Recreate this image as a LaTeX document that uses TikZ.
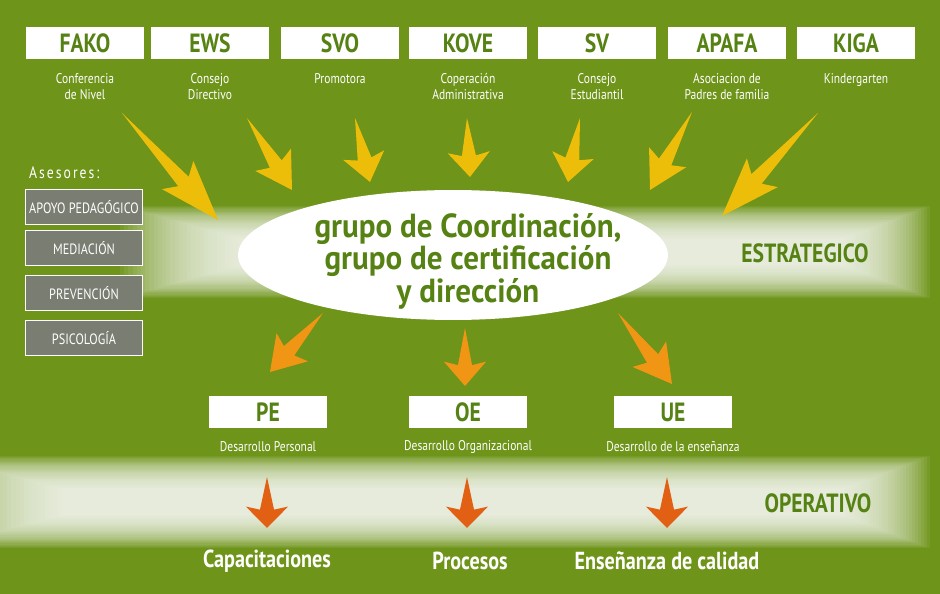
\documentclass[tikz,border=0pt]{standalone}
\usepackage{fontspec}
\setmainfont{PT Sans}[FakeStretch=0.82]
\newfontfamily\widefont{PT Sans}[FakeStretch=0.93]
\usetikzlibrary{
  calc,
  shapes.geometric
}
\definecolor{leaf}{RGB}{110,148,25}
\definecolor{leafdark}{RGB}{86,130,20}
\definecolor{sun}{RGB}{236,190,10}
\definecolor{amber}{RGB}{240,150,20}
\definecolor{rust}{RGB}{226,96,20}
\definecolor{stone}{RGB}{122,125,114}
\tikzset{
  % White boxes with acronyms.
  tag/.style={
    fill=white,
    minimum width=2.36cm,
    minimum height=0.64cm,
    inner sep=0pt,
    text=leafdark,
    font=\fontsize{15pt}{15pt}\selectfont\bfseries},
%
  % Small captions under the boxes.
  caption/.style={
    text=white,
    align=center,
    font=\fontsize{8pt}{9pt}\selectfont},
%
  % Grey boxes on the left.
  advisor/.style={
    fill=stone,
    draw=white,
    line width=0.8pt,
    minimum width=2.34cm,
    minimum height=0.7cm,
    inner sep=0pt,
    text=white,
    font=\fontsize{8.5pt}{9pt}\selectfont},
%
  % Band titles.
  level/.style={
    text=leafdark,
    font=\fontsize{15pt}{15pt}\selectfont\bfseries},
%
  % Results at the bottom.
  result/.style={
    text=white,
    font=\fontsize{14pt}{14pt}\selectfont\bfseries}
}
% Spike arrow from #2 to #3 in colour #1.
\newcommand\spike[3][sun]{%
  \path (#2) coordinate (s) (#3) coordinate (t)
    ($(s)!0.64!(t)$) coordinate (m)
    ($(s)!0.58!(t)$) coordinate (b);
  \fill[#1] (s) -- ($(m)!4pt!90:(t)$) -- ($(b)!12pt!90:(t)$) -- (t)
    -- ($(b)!12pt!-90:(t)$) -- ($(m)!4pt!-90:(t)$) -- cycle;}
% Soft white band between corners #1,#2 and #3,#4 (px).
\newcommand\band[4]{%
  \foreach \k in {0,...,29}
    \fill[white,opacity=0.065]
      ({#1+\k*4.2},{#2+\k*1.15}) rectangle ({#3-\k*3},{#4-\k*1.15});}

\begin{document}
\begin{tikzpicture}[x=0.02cm,y=-0.02cm]
  \fill[leaf] (0,0) rectangle (940,594);
  \useasboundingbox (0,0) rectangle (940,594);

  % Light bands.
  \band{120}{206}{930}{298}
  \band{-60}{456}{930}{548}

  % Top row.
  \foreach \name/\x/\txt/\sub in {
      fako/85/FAKO/{Conferencia\\de Nivel},
      ews/210/EWS/{Consejo\\Directivo},
      svo/340/SVO/Promotora,
      kove/468/KOVE/{Coperación\\Administrativa},
      sv/597/SV/{Consejo\\Estudiantil},
      apafa/727/APAFA/{Asociacion de\\Padres de familia},
      kiga/856/KIGA/Kindergarten}
    {\node[tag] (\name) at (\x,43) {\txt};
     \node[caption,anchor=north] (\name-sub) at (\x,67) {\sub};}

  % Centre.
  \node[ellipse,fill=white,minimum width=8.6cm,minimum height=2.6cm,
        inner sep=0pt] (core) at (453,255) {};
  \node[text=leafdark,align=center,
        font=\widefont\fontsize{19pt}{18.5pt}\selectfont\bfseries] at (468,261) {grupo de
    Coordinación,\\grupo de certificación\\y dirección};
  \node[level] (strat) at (805,253) {ESTRATEGICO};
  \node[level] (oper) at (818,503) {OPERATIVO};

  % Advisors.
  \node[text=white,anchor=west,font=\fontsize{9.5pt}{10pt}\selectfont\addfontfeature{LetterSpace=12}]
    (ases) at (23,173) {Asesores:};
  \foreach \name/\y/\txt in {apoyo/207/APOYO PEDAGÓGICO, medi/248/MEDIACIÓN,
      prev/293/PREVENCIÓN, psico/338/PSICOLOGÍA}
    \node[advisor] (\name) at (84,\y) {\txt};

  % Middle row.
  \foreach \name/\x/\txt/\sub in {
      pe/268/PE/Desarrollo Personal,
      oe/468/OE/Desarrollo Organizacional,
      ue/673/UE/Desarrollo de la enseñanza}
    {\node[tag] (\name) at (\x,412) {\txt};
     \node[caption] (\name-sub) at (\x,447) {\sub};}

  % Results.
  \node[result] (capa) at (267,561) {Capacitaciones};
  \node[result] (proc) at (470,561) {Procesos};
  \node[result] (ense) at (667,561) {Enseñanza de calidad};

  % Arrows.
  \coordinate (y1) at (122,113); \coordinate (y1e) at (218,220);
  \coordinate (y2) at (247,118); \coordinate (y2e) at (292,190);
  \coordinate (y3) at (355,118); \coordinate (y3e) at (370,182);
  \coordinate (y4) at (467,118); \coordinate (y4e) at (470,177);
  \coordinate (y5) at (580,118); \coordinate (y5e) at (568,182);
  \coordinate (y6) at (692,112); \coordinate (y6e) at (650,190);
  \coordinate (y7) at (818,113); \coordinate (y7e) at (722,216);
  \foreach \i in {1,...,7}
    \spike{y\i}{y\i e};

  \coordinate (o1) at (323,313); \coordinate (o1e) at (270,372);
  \coordinate (o2) at (465,328); \coordinate (o2e) at (465,386);
  \coordinate (o3) at (618,313); \coordinate (o3e) at (672,384);
  \foreach \i in {1,2,3}
    \spike[amber]{o\i}{o\i e};

  \foreach \i/\x in {1/267,2/467,3/667}
    {\coordinate (r\i) at (\x,477); \coordinate (r\i e) at (\x,528);
     \spike[rust]{r\i}{r\i e};}
\end{tikzpicture}
\end{document}
